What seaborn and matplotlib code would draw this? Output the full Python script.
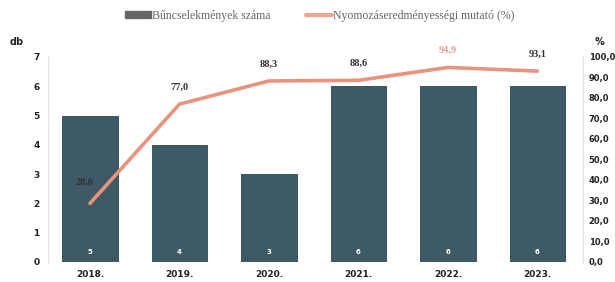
import matplotlib
matplotlib.use("Agg")
import matplotlib.pyplot as plt
import seaborn as sns
from matplotlib.patches import Patch
from matplotlib.lines import Line2D

years = ["2018.", "2019.", "2020.", "2021.", "2022.", "2023."]
crimes = [5, 4, 3, 6, 6, 6]
rate = [28.6, 77.0, 88.3, 88.6, 94.9, 93.1]
rate_labels = ["28,6", "77,0", "88,3", "88,6", "94,9", "93,1"]
left_ticks = [0, 1, 2, 3, 4, 5, 6, 7]
right_ticks = [0, 10, 20, 30, 40, 50, 60, 70, 80, 90, 100]

bar_color = "#3d5a66"
line_color = "#e8937c"

sns.set_style("white")
plt.rcParams["font.family"] = ["DejaVu Sans"]

fig = plt.figure(figsize=(6.15, 2.82), dpi=100)
ax = fig.add_axes([0.078, 0.071, 0.87, 0.727])

sns.barplot(x=years, y=crimes, ax=ax, color=bar_color, width=0.62,
            edgecolor="#2c444e", linewidth=0.6, saturation=1)
ax.set_ylim(0, 7)
ax.set_yticks(left_ticks)
ax.set_yticklabels([str(t) for t in left_ticks], fontsize=6.5, fontweight="bold", color="#222222")
ax.tick_params(axis="both", length=0, pad=6)
for lab in ax.get_xticklabels():
    lab.set_fontsize(6.5)
    lab.set_fontweight("bold")
    lab.set_color("#222222")

# small value labels at the foot of the bars
for i, v in enumerate(crimes):
    ax.text(i, 0.35, str(v), ha="center", va="center", fontsize=5, color="white", fontweight="bold")

ax2 = ax.twinx()
sns.pointplot(x=years, y=rate, ax=ax2, color=line_color, markers="", linewidth=2.6)
ax2.set_ylim(0, 100)
ax2.set_yticks(right_ticks)
ax2.set_yticklabels([f"{t},0" for t in right_ticks], fontsize=6, fontweight="bold", color="#222222")
ax2.tick_params(axis="y", length=0, pad=4)
ax2.set_xlim(-0.47, 5.51)
ax.set_xlim(-0.47, 5.51)

offsets = [(-4, 12), (0, 9), (0, 9), (0, 9), (0, 9), (0, 9)]
for i, (v, s) in enumerate(zip(rate, rate_labels)):
    col = "#e79aa0" if i == 4 else "#333333"
    ax2.annotate(s, (i, v), textcoords="offset points", xytext=offsets[i],
                 ha="center", va="bottom", fontsize=7.5, fontweight="bold",
                 family="Liberation Serif", color=col)

for a in (ax, ax2):
    for side in ("top", "bottom"):
        a.spines[side].set_visible(False)
    a.spines["left"].set_color("#e4e4e4")
    a.spines["right"].set_color("#e4e4e4")
    a.spines["left"].set_linewidth(0.8)
    a.spines["right"].set_linewidth(0.8)
    a.set_xlabel("")
    a.set_ylabel("")

fig.text(0.015, 0.84, "db", fontsize=7, fontweight="bold", color="#222222")
fig.text(0.975, 0.84, "%", fontsize=7, fontweight="bold", color="#222222", ha="center")

handles = [Patch(color="#666666"), Line2D([0], [0], color="#f2a58e", lw=3)]
fig.legend(handles, ["Bűncselekmények száma", "Nyomozáseredményességi mutató (%)"],
           loc="center", bbox_to_anchor=(0.52, 0.945), ncol=2, frameon=False,
           prop={"family": "Liberation Serif", "size": 8.5}, labelcolor="#666666",
           handlelength=2.2, handleheight=0.5, handletextpad=0.1, columnspacing=3)

fig.savefig("out.png", dpi=100)
